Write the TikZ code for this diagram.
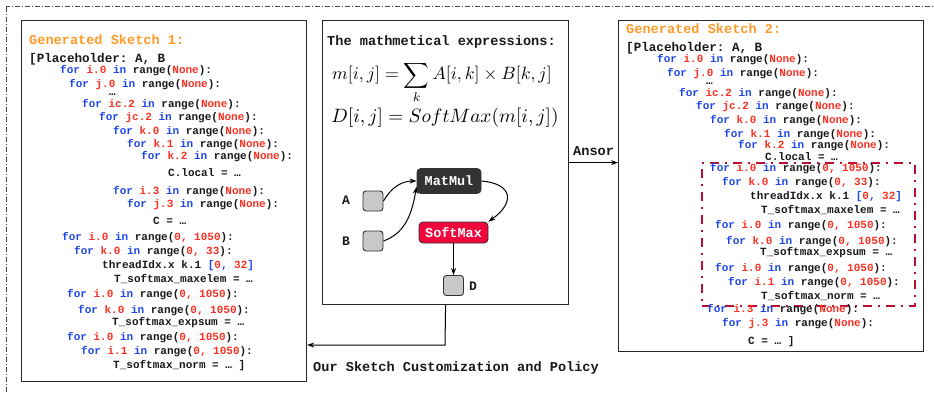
\documentclass[tikz,border=0pt]{standalone}
\usepackage{fontspec}
\setmonofont{Liberation Mono}
\usetikzlibrary{arrows.meta}
\definecolor{loopblue}{RGB}{30,70,235}
\definecolor{idxred}{RGB}{250,50,35}
\definecolor{sketchorange}{RGB}{255,155,40}
\definecolor{codegray}{RGB}{25,25,25}
\definecolor{framegray}{RGB}{70,70,70}
\definecolor{fusedred}{RGB}{185,15,50}
\definecolor{matmuldark}{RGB}{50,50,50}
\definecolor{softmaxred}{RGB}{240,5,60}
\definecolor{tensorgray}{RGB}{200,200,200}
\newcommand{\forin}[2]{\textcolor{loopblue}{for} \textcolor{idxred}{#1} \textcolor{loopblue}{in} range(\textcolor{idxred}{#2}):}
\newcommand{\threadline}{threadIdx.x k.1 \textcolor{loopblue}{[}\textcolor{idxred}{0}\textcolor{loopblue}{, }\textcolor{idxred}{32}\textcolor{loopblue}{]}}

\begin{document}
\begin{tikzpicture}[x=1pt,y=1pt]
    \tikzstyle{code} = [anchor=west, inner sep=0pt, text=codegray, font=\ttfamily\bfseries\fontsize{11}{13}\selectfont, execute at begin node=\strut]
    \tikzstyle{head} = [code, font=\ttfamily\bfseries\fontsize{13.6}{16}\selectfont]
    \tikzstyle{panel} = [draw=black!85, line width=1.2pt, anchor=north west, inner sep=0pt]
    \tikzstyle{tensor} = [draw=black!80, fill=tensorgray, rounded corners=3pt, minimum size=20pt, line width=0.9pt]
    \tikzstyle{op} = [draw=black!80, rounded corners=4pt, text=white, line width=0.9pt, font=\ttfamily\bfseries\fontsize{13.5}{16}\selectfont]
    \tikzstyle{glabel} = [text=codegray, font=\ttfamily\bfseries\fontsize{13}{15}\selectfont]
    \tikzstyle{formula} = [anchor=base, inner sep=0pt, transform shape]
    \tikzstyle{arr} = [-{Stealth[length=7pt,width=5pt]}, line width=1pt]

    \useasboundingbox (0,0) rectangle (934,-393);
    \clip (0,0) rectangle (934,-393);
    % outer frame, runs off the page
    \draw[framegray, line width=1pt, dash pattern=on 5pt off 2pt on 1pt off 2pt] (6,-7) rectangle (960,-420);

    % the three panels
    \node[panel, minimum width=285pt, minimum height=361pt] (left) at (21,-20) {};
    \node[panel, minimum width=246pt, minimum height=284pt] (mid) at (322,-20) {};
    \node[panel, minimum width=305pt, minimum height=331pt] (right) at (618,-20) {};
    \node[panel, draw=fusedred, line width=2pt, dash pattern=on 9pt off 6pt on 2pt off 6pt, minimum width=213pt, minimum height=143pt] (fused) at (701,-162) {};

    % sketch 1
    \node[head, text=sketchorange] (l1) at (29,-41) {Generated Sketch 1:};
    \node[code, font=\ttfamily\bfseries\fontsize{12.6}{15}\selectfont] (l2) at (29,-60) {[Placeholder: A, B};
    \foreach \n/\x/\y/\t in {3/60/71/{\forin{i.0}{None}}, 4/69/85/{\forin{j.0}{None}}, 5/109/93/{\ldots},
        6/82/105/{\forin{ic.2}{None}}, 7/99/118/{\forin{jc.2}{None}}, 8/113/132/{\forin{k.0}{None}},
        9/127/145/{\forin{k.1}{None}}, 10/141/157/{\forin{k.2}{None}}, 11/168/174/{C.local = \ldots},
        12/113/192/{\forin{i.3}{None}}, 13/127/205/{\forin{j.3}{None}}, 14/153/222/{C = \ldots},
        15/62/238/{\forin{i.0}{0, 1050}}, 16/74/252/{\forin{k.0}{0, 33}}, 17/102/266/{\threadline},
        18/114/280/{T\_softmax\_maxelem = \ldots}, 19/67/295/{\forin{i.0}{0, 1050}},
        20/78/311/{\forin{k.0}{0, 1050}}, 21/112/323/{T\_softmax\_expsum = \ldots},
        22/67/338/{\forin{i.0}{0, 1050}}, 23/81/352/{\forin{i.1}{0, 1050}}, 24/113/366/{T\_softmax\_norm = \ldots\ ]}}
        \node[code] (l\n) at (\x,-\y) {\t};

    % sketch 2
    \node[head, text=sketchorange] (r1) at (626,-30) {Generated Sketch 2:};
    \node[code, font=\ttfamily\bfseries\fontsize{12.6}{15}\selectfont] (r2) at (626,-49) {[Placeholder: A, B};
    \foreach \n/\x/\y/\t in {3/657/60/{\forin{i.0}{None}}, 4/667/74/{\forin{j.0}{None}}, 5/706/82/{\ldots},
        6/679/94/{\forin{ic.2}{None}}, 7/696/107/{\forin{jc.2}{None}}, 8/710/121/{\forin{k.0}{None}},
        9/724/135/{\forin{k.1}{None}}, 10/738/146/{\forin{k.2}{None}}, 11/765/158/{C.local = \ldots},
        12/710/169/{\forin{i.0}{0, 1050}}, 13/722/183/{\forin{k.0}{0, 33}}, 14/750/197/{\threadline},
        15/761/211/{T\_softmax\_maxelem = \ldots}, 16/715/226/{\forin{i.0}{0, 1050}},
        17/726/242/{\forin{k.0}{0, 1050}}, 18/760/253/{T\_softmax\_expsum = \ldots},
        19/715/269/{\forin{i.0}{0, 1050}}, 20/728/283/{\forin{i.1}{0, 1050}}, 21/761/297/{T\_softmax\_norm = \ldots},
        22/707/310/{\forin{i.3}{None}}, 23/722/324/{\forin{j.3}{None}}, 24/748/342/{C = \ldots\ ]}}
        \node[code] (r\n) at (\x,-\y) {\t};

    % expressions and the graph
    \node[head] (mtitle) at (327,-42) {The mathmetical expressions:};
    \node[formula, scale=1.78] (eq1) at (442,-80) {$\displaystyle m[i,j] = \sum_k A[i,k] \times B[k,j]$};
    \node[formula, scale=1.93] (eq2) at (445,-123) {$D[i,j] = SoftMax(m[i,j])$};

    \node[tensor] (A) at (373,-201) {};
    \node[tensor] (B) at (373,-241) {};
    \node[tensor] (D) at (453.5,-285.5) {};
    \node[glabel] (Alab) at (346,-200) {A};
    \node[glabel] (Blab) at (346,-241) {B};
    \node[glabel] (Dlab) at (473,-286) {D};
    \node[op, fill=matmuldark, minimum width=64pt, minimum height=25pt] (mm) at (449,-181) {MatMul};
    \node[op, fill=softmaxred, minimum width=69pt, minimum height=21pt] (sm) at (453.5,-232.5) {SoftMax};

    \draw[arr] (A.east) to[out=60, in=180] (mm.west);
    \draw[arr] (B.east) to[out=20, in=-100] (mm.190);
    \draw[arr] (mm.east) to[out=-5, in=35, looseness=2] (sm.north east);
    \draw[arr] (sm) -- (D);

    % connectors between panels
    \draw[arr] (mid.east) -- (mid.east -| right.west)
        node[midway, above=3pt, glabel, font=\ttfamily\bfseries\fontsize{13.6}{16}\selectfont] (ansor) {Ansor};
    \coordinate (bend) at (445,-345);
    \draw[arr] (mid.south) -- (bend) -- (bend -| left.east);
    \node[head] (policy) at (313,-368) {Our Sketch Customization and Policy};
\end{tikzpicture}
\end{document}
